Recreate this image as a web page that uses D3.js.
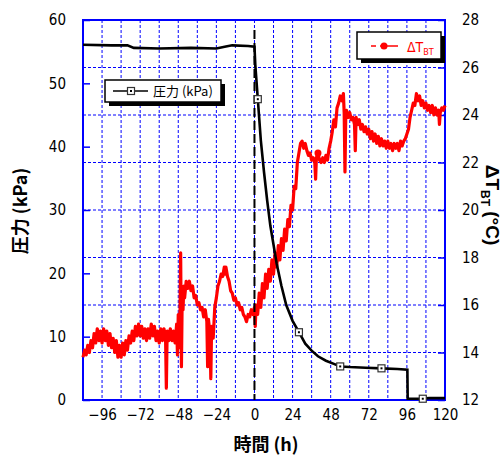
<!DOCTYPE html>
<html>
<head>
<meta charset="utf-8">
<script src="https://cdn.jsdelivr.net/npm/d3@7"></script>
<style>
    body { margin: 0; background: #fff; }
    text { font-family: "Liberation Sans Narrow", "DejaVu Sans Condensed", "Liberation Sans", sans-serif; }
    .jp { font-family: "Noto Sans CJK JP", sans-serif; }
</style>
</head>
<body>
<script>
// Pressure series (kPa, left axis).
var pressureHours = [-108, -90, -80, -76, -60, -40, -24, -18, -14, -4, 0, 0.5, 2.1, 4, 6, 8, 10, 12, 14, 17, 20, 24, 28, 32, 36, 40, 45, 50, 54, 60, 70, 80, 90, 96.3, 96.5, 104, 110, 120];
var pressureValues = [56.1, 56.0, 56.0, 55.6, 55.5, 55.6, 55.5, 55.8, 56.0, 55.9, 55.8, 53.0, 47.5, 41.0, 36.0, 31.5, 27.5, 24.5, 21.5, 18.0, 15.0, 12.5, 10.7, 8.9, 7.8, 6.9, 6.2, 5.7, 5.3, 5.2, 5.1, 5.0, 4.9, 4.8, 0.2, 0.2, 0.3, 0.3];
var pressureMarkHours = [2.1, 28, 54, 80, 106];
var pressureMarkValues = [47.5, 10.7, 5.3, 5.0, 0.2];

// Temperature difference series (deg C, right axis).
var dtHours = [-108, -107, -106, -105, -104, -103, -102, -101, -100, -99, -98, -97, -96, -95, -94, -93, -92, -91, -90, -89, -88, -87, -86, -85, -84, -83, -82, -81, -80, -79, -78, -77, -76, -75, -74, -73, -72, -71, -70, -69, -68, -67, -66, -65, -64, -63, -62, -61, -60, -59, -58, -57, -56, -55.5, -55, -54, -53, -52, -51, -50, -49, -48.5, -48, -47.5, -47, -46.5, -46, -45.5, -45, -44.5, -44, -43, -42, -41, -40, -39, -38, -37, -36, -35, -34, -33, -32, -31, -30, -29.5, -29, -28, -27.5, -27, -26, -25, -24, -23, -22, -21, -20, -19, -18.5, -18, -17, -16, -15, -14, -13, -12, -11, -10, -9, -8, -7, -6, -5, -4, -3, -2, -1, 0, 0.5, 1, 2, 3, 4, 5, 6, 7, 8, 9, 10, 11, 12, 13, 14, 15, 16, 17, 18, 19, 20, 21, 22, 23, 24, 25, 26, 27, 28, 29, 30, 31, 32, 33, 34, 35, 36, 37, 38, 38.5, 39, 40, 41, 42, 43, 44, 45, 46, 47, 48, 49, 50, 51, 52, 53, 54, 55, 56, 56.5, 57, 57.5, 58, 59, 60, 61, 62, 63, 63.5, 64, 65, 66, 67, 68, 69, 70, 71, 72, 73, 74, 75, 76, 77, 78, 79, 80, 81, 82, 83, 84, 85, 86, 87, 88, 89, 90, 91, 92, 93, 94, 95, 96, 97, 98, 99, 100, 101, 102, 103, 104, 105, 106, 107, 108, 109, 110, 111, 112, 113, 114, 115, 116, 116.5, 117, 118, 119, 120];
var dtValues = [13.8, 14.1, 13.9, 14.3, 14.0, 14.5, 14.2, 14.8, 14.4, 15.0, 14.5, 14.9, 14.4, 15.0, 14.5, 14.9, 14.3, 14.8, 14.2, 14.6, 14.0, 14.5, 13.8, 14.3, 13.8, 14.4, 13.9, 14.5, 14.1, 14.7, 14.4, 14.9, 14.5, 15.1, 14.7, 15.2, 14.7, 15.1, 14.6, 15.0, 14.5, 15.0, 14.6, 15.2, 14.7, 15.1, 14.5, 14.9, 14.4, 15.0, 14.5, 15.0, 14.6, 12.5, 14.9, 14.5, 15.0, 14.5, 14.9, 14.4, 15.2, 13.9, 15.6, 14.2, 14.9, 18.2, 13.4, 16.5, 15.8, 16.8, 16.3, 17.0, 16.7, 17.0, 16.6, 16.8, 16.3, 16.4, 16.0, 16.1, 15.8, 15.9, 15.5, 15.8, 15.3, 13.4, 15.4, 14.8, 12.9, 15.1, 14.6, 15.9, 16.3, 16.8, 17.0, 17.3, 17.2, 17.6, 17.3, 17.6, 17.2, 17.0, 16.6, 16.5, 16.2, 16.3, 16.0, 16.1, 15.8, 15.9, 15.6, 15.5, 15.3, 15.6, 15.5, 15.8, 15.6, 15.9, 15.1, 16.0, 15.6, 16.5, 15.9, 16.9, 16.3, 17.3, 16.7, 17.5, 17.0, 17.9, 17.3, 18.2, 17.6, 18.5, 17.9, 18.8, 18.3, 19.2, 18.7, 19.6, 19.3, 20.2, 20.0, 21.0, 20.9, 22.0, 22.4, 22.8, 22.9, 22.6, 22.8, 22.5, 22.3, 22.4, 22.1, 22.2, 22.0, 21.3, 22.2, 22.4, 22.1, 22.0, 22.2, 22.0, 22.3, 22.1, 22.6, 22.9, 23.3, 23.8, 23.5, 24.3, 24.5, 24.8, 24.6, 24.9, 24.1, 21.6, 24.0, 24.2, 23.9, 24.1, 23.8, 23.9, 23.6, 22.5, 23.9, 23.6, 23.8, 23.4, 23.6, 23.3, 23.5, 23.2, 23.4, 23.0, 23.3, 22.9, 23.2, 22.8, 23.1, 22.7, 23.0, 22.7, 22.9, 22.6, 22.9, 22.6, 22.8, 22.5, 22.8, 22.6, 22.8, 22.5, 22.9, 22.7, 22.9, 23.0, 23.2, 23.4, 23.9, 24.2, 24.5, 24.4, 24.9, 24.6, 24.8, 24.4, 24.6, 24.3, 24.5, 24.2, 24.4, 24.1, 24.4, 24.0, 24.3, 24.0, 24.2, 23.6, 24.1, 24.3, 24.2, 24.4];
var dtMarkHours = [40];
var dtMarkValues = [22.4];

// Axis ticks.
var hourTicks = [-96, -72, -48, -24, 0, 24, 48, 72, 96, 120];
var hourGrid = [-96, -84, -72, -60, -48, -36, -24, -12, 0, 12, 24, 36, 48, 60, 72, 84, 96, 108];
var pressureTicks = [0, 10, 20, 30, 40, 50, 60];
var dtTicks = [12, 14, 16, 18, 20, 22, 24, 26, 28];

// Plot area inside the 503x457 window.
var margin = {left: 83, right: 445, top: 20, bottom: 400};
var blue = "#0000ff";

var svg = d3.select("body").append("svg")
    .attr("width", 503)
    .attr("height", 457);

var x = d3.scaleLinear().domain([-108, 120]).range([margin.left, margin.right]);
var yP = d3.scaleLinear().domain([0, 60]).range([margin.bottom, margin.top]);
var yT = d3.scaleLinear().domain([12, 28]).range([margin.bottom, margin.top]);

// Dashed blue grid.
svg.append("g")
    .selectAll("line")
    .data(hourGrid)
    .join("line")
    .attr("x1", d => x(d)).attr("x2", d => x(d))
    .attr("y1", margin.top).attr("y2", margin.bottom)
    .attr("stroke", blue).attr("stroke-width", 1)
    .attr("stroke-dasharray", "3,2");

svg.append("g")
    .selectAll("line")
    .data(dtTicks.slice(1, -1))
    .join("line")
    .attr("x1", margin.left).attr("x2", margin.right)
    .attr("y1", d => yT(d)).attr("y2", d => yT(d))
    .attr("stroke", blue).attr("stroke-width", 1)
    .attr("stroke-dasharray", "3,2");

// Frame.
svg.append("rect")
    .attr("x", margin.left).attr("y", margin.top)
    .attr("width", margin.right - margin.left)
    .attr("height", margin.bottom - margin.top)
    .attr("fill", "none").attr("stroke", blue).attr("stroke-width", 2);

// Axes: inward ticks, labels placed by d3 axes.
var leftAxis = svg.append("g")
    .attr("transform", "translate(" + margin.left + ",0)")
    .call(d3.axisLeft(yP).tickValues(pressureTicks).tickSize(-7).tickPadding(17));
var rightAxis = svg.append("g")
    .attr("transform", "translate(" + margin.right + ",0)")
    .call(d3.axisRight(yT).tickValues(dtTicks).tickSize(-7).tickPadding(17));
var bottomAxis = svg.append("g")
    .attr("transform", "translate(0," + margin.bottom + ")")
    .call(d3.axisBottom(x).tickValues(hourTicks).tickSize(0).tickPadding(9)
        .tickFormat(d => d < 0 ? "\u2212" + Math.abs(d) : d));

[leftAxis, rightAxis, bottomAxis].forEach(a => {
    a.select(".domain").remove();
    a.selectAll(".tick line").attr("stroke", blue).attr("stroke-width", 1.5);
    a.selectAll(".tick text").attr("fill", "#000").style("font-size", "15px");
});

// Temperature difference line.
var dtLine = d3.line()
    .x((d, i) => x(dtHours[i]))
    .y(d => yT(d));

svg.append("path")
    .datum(dtValues)
    .attr("d", dtLine)
    .attr("fill", "none")
    .attr("stroke", "#ff0000")
    .attr("stroke-width", 3.2)
    .attr("stroke-linejoin", "round");

svg.append("g")
    .selectAll("circle")
    .data(dtMarkHours)
    .join("circle")
    .attr("cx", d => x(d))
    .attr("cy", (d, i) => yT(dtMarkValues[i]))
    .attr("r", 3.5)
    .attr("fill", "#ff0000");

// Vertical dashed line at hour 0.
svg.append("line")
    .attr("x1", x(0)).attr("x2", x(0))
    .attr("y1", 30).attr("y2", margin.bottom)
    .attr("stroke", "#000").attr("stroke-width", 2)
    .attr("stroke-dasharray", "9,4");

// Pressure line.
var pLine = d3.line()
    .x((d, i) => x(pressureHours[i]))
    .y(d => yP(d));

svg.append("path")
    .datum(pressureValues)
    .attr("d", pLine)
    .attr("fill", "none")
    .attr("stroke", "#000")
    .attr("stroke-width", 2.6);

// Square markers with a dot in the middle.
function squareMark(sel) {
    sel.append("rect")
        .attr("x", -3.5).attr("y", -3.5).attr("width", 7).attr("height", 7)
        .attr("fill", "#fff").attr("stroke", "#333").attr("stroke-width", 1.2);
    sel.append("rect")
        .attr("x", -1).attr("y", -1).attr("width", 2).attr("height", 2)
        .attr("fill", "#000");
}

svg.append("g")
    .selectAll("g")
    .data(pressureMarkHours)
    .join("g")
    .attr("transform", (d, i) => "translate(" + x(d) + "," + yP(pressureMarkValues[i]) + ")")
    .call(squareMark);

// Legend boxes with a drop shadow.
function legendBox(x0, y0, w, h) {
    svg.append("rect").attr("x", x0 + 4).attr("y", y0 + 4).attr("width", w).attr("height", h).attr("fill", "#000");
    svg.append("rect").attr("x", x0).attr("y", y0).attr("width", w).attr("height", h)
        .attr("fill", "#fff").attr("stroke", "#000").attr("stroke-width", 1.5);
}

legendBox(105, 80, 116, 22);
svg.append("line").attr("x1", 113).attr("x2", 148).attr("y1", 91).attr("y2", 91)
    .attr("stroke", "#000").attr("stroke-width", 1.5);
svg.append("g").attr("transform", "translate(131,91)").call(squareMark);
svg.append("text").attr("class", "jp").attr("x", 153).attr("y", 96)
    .style("font-size", "13px").text("圧力 (kPa)");

legendBox(357, 32, 84, 27);
svg.append("line").attr("x1", 371).attr("x2", 376).attr("y1", 46).attr("y2", 46)
    .attr("stroke", "#ff0000").attr("stroke-width", 1.5);
svg.append("line").attr("x1", 380).attr("x2", 398).attr("y1", 46).attr("y2", 46)
    .attr("stroke", "#ff0000").attr("stroke-width", 1.5);
svg.append("circle").attr("cx", 384).attr("cy", 46).attr("r", 3.5).attr("fill", "#ff0000");
var dtLegend = svg.append("text").attr("x", 407).attr("y", 52)
    .attr("fill", "#ff0000").style("font-size", "14px");
dtLegend.append("tspan").text("ΔT");
dtLegend.append("tspan").attr("dy", 3).style("font-size", "9px").text("BT");

// Axis titles.
svg.append("text")
    .attr("class", "jp")
    .attr("transform", "translate(27,211) rotate(-90)")
    .attr("text-anchor", "middle")
    .style("font-size", "18px").style("font-weight", "bold")
    .text("圧力 (kPa)");

var rightTitle = svg.append("text")
    .attr("transform", "translate(486,205) rotate(90)")
    .attr("text-anchor", "middle")
    .style("font-family", "'Liberation Sans', sans-serif")
    .style("font-size", "19px").style("font-weight", "bold");
rightTitle.append("tspan").text("ΔT");
rightTitle.append("tspan").attr("dy", 5).style("font-size", "12px").text("BT");
rightTitle.append("tspan").attr("dy", -5).text(" (°C)");

svg.append("text")
    .attr("class", "jp")
    .attr("x", 266).attr("y", 451)
    .attr("text-anchor", "middle")
    .style("font-size", "18px").style("font-weight", "bold")
    .text("時間 (h)");
</script>
</body>
</html>
